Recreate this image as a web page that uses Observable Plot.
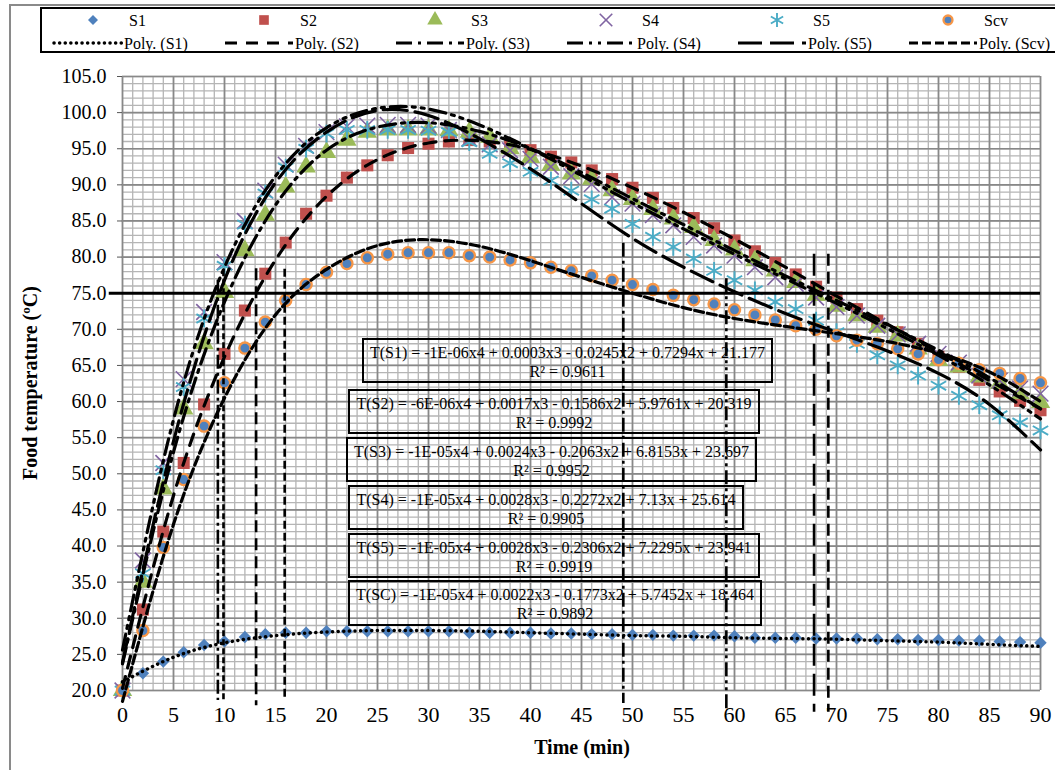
<!DOCTYPE html>
<html><head><meta charset="utf-8">
<script src="https://cdn.jsdelivr.net/npm/d3@7"></script>
<script src="https://cdn.jsdelivr.net/npm/@observablehq/plot@0.6"></script>
<style>
body{margin:0;background:#fff;}
#wrap{position:relative;width:1055px;height:770px;overflow:hidden;font-family:"Liberation Serif","Times New Roman",serif;color:#000;}
#wrap svg.plot{position:absolute;left:0;top:0;}
.frameL{position:absolute;left:9px;top:4px;width:2px;height:780px;background:#8a8a8a;}
.frameT{position:absolute;left:9px;top:4px;width:1100px;height:2px;background:#8a8a8a;}
.legendBox{position:absolute;left:40px;top:7px;width:1030px;height:42px;border:2.5px solid #000;}
.eq{position:absolute;border:2px solid #000;box-sizing:border-box;text-align:center;font-size:16px;line-height:19px;padding-top:3px;white-space:nowrap;}
.ytitle{position:absolute;left:30px;top:383px;transform:translate(-50%,-50%) rotate(-90deg);font-weight:bold;font-size:20px;white-space:nowrap;}
.xtitle{position:absolute;left:582px;top:747px;transform:translate(-50%,-50%);font-weight:bold;font-size:20px;white-space:nowrap;}
</style></head><body><div id="wrap"></div><script>
// ---------- data ----------
const times = [0,2,4,6,8,10,12,14,16,18,20,22,24,26,28,30,32,34,36,38,40,42,44,46,48,50,52,54,56,58,60,62,64,66,68,70,72,74,76,78,80,82,84,86,88,90];
const s1 = [20.0,22.4,24.0,25.3,26.3,26.8,27.4,27.8,28.0,28.0,28.2,28.2,28.2,28.2,28.2,28.2,28.2,28.0,28.0,28.0,28.0,27.9,27.9,27.8,27.8,27.7,27.7,27.6,27.6,27.6,27.5,27.3,27.3,27.3,27.2,27.2,27.2,27.1,27.1,27.0,27.0,26.9,26.9,26.8,26.7,26.6];
const s2 = [20.0,31.2,42.0,51.5,59.6,66.6,72.6,77.7,82.0,86.0,88.5,91.0,92.7,94.1,95.1,95.7,96.0,96.2,96.0,95.4,94.8,93.9,93.1,92.0,90.8,89.6,88.2,86.8,85.4,84.0,82.3,80.8,79.2,77.6,75.9,74.4,72.8,71.2,69.6,68.0,66.2,64.8,63.0,61.4,60.1,58.8];
const s3 = [20.0,35.0,47.9,59.0,68.0,75.1,80.9,85.8,89.7,92.5,94.5,96.2,97.3,97.6,97.6,97.6,97.5,97.3,96.6,95.0,93.8,92.7,91.5,90.8,89.2,88.0,86.6,85.3,84.1,82.3,81.0,79.5,78.1,76.5,74.7,73.2,71.9,70.3,69.1,67.3,65.7,64.8,63.4,62.5,61.1,59.9];
const s4 = [20.0,38.0,51.5,63.1,72.4,79.3,85.0,89.2,92.8,95.4,97.3,98.1,98.2,98.3,98.3,98.2,97.6,96.4,95.6,94.8,93.6,92.5,91.2,90.1,88.3,87.4,85.8,84.4,82.8,81.6,80.2,78.6,77.2,76.3,74.4,73.1,71.9,70.5,69.3,68.0,66.6,65.4,63.6,62.9,61.8,61.1];
const s5 = [20.0,36.2,50.5,62.0,71.5,78.8,84.5,88.8,92.4,95.0,97.1,97.6,97.6,97.6,97.6,97.5,97.3,95.9,94.3,93.0,91.8,90.6,89.2,88.0,86.7,84.6,82.8,81.4,79.8,78.1,76.8,75.4,73.8,72.8,71.2,69.6,68.0,66.4,65.0,63.6,62.2,60.8,59.5,58.1,57.1,56.0];
const scv = [20.0,28.3,39.8,49.2,56.6,62.6,67.4,71.0,74.0,76.2,77.9,79.1,79.9,80.4,80.6,80.6,80.6,80.2,80.0,79.6,79.2,78.6,78.1,77.4,76.8,76.2,75.5,74.7,74.1,73.5,72.7,72.0,71.3,70.5,70.0,69.1,68.5,68.0,67.3,66.6,65.8,65.3,64.4,63.9,63.2,62.6];

// polynomial trendlines
const polyTimes = [0,5,10,15,20,25,30,35,40,45,50,55,60,65,70,75,80,85,90];
const polyS1 = [21.2,24.6,26.6,27.6,28.1,28.3,28.3,28.2,28.0,27.8,27.6,27.5,27.3,27.2,27.1,26.9,26.7,26.4,26.1];
const polyS2 = [20.3,47.0,66.2,79.6,88.4,93.5,95.8,96.1,94.9,92.6,89.6,86.2,82.5,78.6,74.6,70.7,66.8,62.9,59.0];
const polyS3 = [23.7,53.0,73.8,87.2,94.8,98.0,98.6,97.4,95.0,91.7,88.1,84.5,80.9,77.4,74.0,70.6,67.1,63.3,59.0];
const polyS4 = [25.6,57.5,78.6,91.2,97.9,100.6,100.5,98.3,95.0,91.3,87.5,83.9,80.4,77.0,73.6,70.1,66.4,62.3,57.6];
const polyS5 = [23.9,54.5,76.8,90.3,97.3,100.3,99.6,96.4,92.2,87.4,82.6,78.6,75.2,72.2,69.6,67.0,63.9,59.6,53.3];
const polyScv = [18.5,43.0,60.5,72.0,78.3,81.6,82.4,81.5,79.5,77.2,75.0,73.0,71.5,70.4,69.4,68.3,66.7,64.1,60.0];

// annotations
const threshold = 75;
const thresholdStart = -1.3;
const refTimes = [9.35, 9.9, 13.1, 15.9, 49.1, 59.2, 67.8, 69.2];
const refTops = [76.8, 78.1, 78.4, 78.3, 81.9, 77.0, 80.4, 80.4];
const refBottoms = [18.6, 18.6, 17.9, 18.6, 18.2, 17.2, 17.0, 17.0];
const refDash = ["14 4 3 4", "6 3", "12 6", "8 4", "14 4 3 4", "14 4 3 4 3 4", "22 8", "12 6"];

const xTicks = [0,5,10,15,20,25,30,35,40,45,50,55,60,65,70,75,80,85,90];
const yTicks = [20,25,30,35,40,45,50,55,60,65,70,75,80,85,90,95,100,105];
const xMinor = d3.range(0, 91, 1);
const yMinor = d3.range(20, 106, 1);

const seriesNames = ["S1","S2","S3","S4","S5","Scv"];
const polyNames = ["Poly. (S1)","Poly. (S2)","Poly. (S3)","Poly. (S4)","Poly. (S5)","Poly. (Scv)"];
const equations = [
  ["T(S1) = -1E-06x4 + 0.0003x3 - 0.0245x2 + 0.7294x + 21.177", "R² = 0.9611"],
  ["T(S2) = -6E-06x4 + 0.0017x3 - 0.1586x2 + 5.9761x + 20.319", "R² = 0.9992"],
  ["T(S3) = -1E-05x4 + 0.0024x3 - 0.2063x2 + 6.8153x + 23.697", "R² = 0.9952"],
  ["T(S4) = -1E-05x4 + 0.0028x3 - 0.2272x2 + 7.13x + 25.614", "R² = 0.9905"],
  ["T(S5) = -1E-05x4 + 0.0028x3 - 0.2306x2 + 7.2295x + 23.941", "R² = 0.9919"],
  ["T(SC) = -1E-05x4 + 0.0022x3 - 0.1773x2 + 5.7452x + 18.464", "R² = 0.9892"]
];

// ---------- styles ----------
const markerStyles = [
  {symbol:"diamond2", r:5.6, fill:"#4F81BD", stroke:"none"},
  {symbol:"square", r:6.8, fill:"#C0504D", stroke:"none"},
  {symbol:"triangle", r:7.2, fill:"#9BBB59", stroke:"none"},
  {symbol:"times", r:7.2, fill:"none", stroke:"#8064A2", strokeWidth:1.6},
  {symbol:"asterisk", r:8.4, fill:"none", stroke:"#4BACC6", strokeWidth:1.9},
  {symbol:"circle", r:5.6, fill:"#4F81BD", stroke:"#F79646", strokeWidth:2.3}
];
const polyStyles = [
  {strokeDasharray:"0.1 5.5", strokeLinecap:"round", strokeWidth:3.5},
  {strokeDasharray:"12 9", strokeWidth:3.2},
  {strokeDasharray:"16 6 3 6", strokeWidth:3.2},
  {strokeDasharray:"16 6 3 6 3 6", strokeWidth:3.2},
  {strokeDasharray:"24 8", strokeWidth:3.2},
  {strokeDasharray:"9 4", strokeWidth:3.2}
];

const seriesVals = [s1,s2,s3,s4,s5,scv];
const polyVals = [polyS1,polyS2,polyS3,polyS4,polyS5,polyScv];
const pts = seriesVals.map(vals => times.map((t,i)=>({t, v: vals[i]})));
const polys = polyVals.map(vals => polyTimes.map((t,i)=>({t, v: vals[i]})));
const refs = refTimes.map((t,i)=>({t, top: refTops[i], bottom: refBottoms[i], dash: refDash[i]}));

const marks = [
  Plot.gridX(xMinor, {stroke:"#b5b5b5", strokeOpacity:1, strokeWidth:1.3}),
  Plot.gridY(yMinor, {stroke:"#b5b5b5", strokeOpacity:1, strokeWidth:1.3}),
  Plot.gridX(xTicks, {stroke:"#888", strokeOpacity:1, strokeWidth:1.7}),
  Plot.gridY(yTicks, {stroke:"#888", strokeOpacity:1, strokeWidth:1.7}),
  Plot.axisX(xTicks, {tickSize:0, tickPadding:16, fontSize:22, tickFormat:d=>String(d), label:null}),
  Plot.axisY(yTicks, {tickSize:5, tickPadding:11, fontSize:20, tickFormat:d=>d.toFixed(1), label:null, stroke:"#555"})
];
pts.forEach((d,i)=>{
  const m = markerStyles[i];
  marks.push(Plot.dot(d, {x:"t", y:"v", symbol:m.symbol, r:m.r, fill:m.fill, stroke:m.stroke, strokeWidth:m.strokeWidth||1}));
});
marks.push(Plot.ruleY([threshold], {x1:thresholdStart, x2:90, stroke:"#000", strokeWidth:3}));
refs.forEach(r=>{
  marks.push(Plot.ruleX([r], {x:"t", y1:"top", y2:"bottom", stroke:"#000", strokeWidth:2.6, strokeDasharray:r.dash}));
});
polys.forEach((d,i)=>{
  marks.push(Plot.line(d, {x:"t", y:"v", curve:"natural", stroke:"#000", ...polyStyles[i]}));
});

const chart = Plot.plot({
  width:1055, height:770,
  marginLeft:122, marginRight:15, marginTop:76, marginBottom:80,
  style:{fontFamily:"'Liberation Serif', 'Times New Roman', serif", color:"#000", background:"transparent", overflow:"visible"},
  x:{domain:[0,90], axis:null},
  y:{domain:[20,105], axis:null},
  marks
});
chart.classList.add("plot");
const wrap = document.getElementById("wrap");
wrap.appendChild(chart);

// frame
wrap.insertAdjacentHTML("beforeend", '<div class="frameL"></div><div class="frameT"></div>');

// legend
const legend = document.createElement("div");
legend.className = "legendBox";
wrap.appendChild(legend);
const lsvg = d3.select(wrap).append("svg")
  .attr("width",1055).attr("height",56)
  .style("position","absolute").style("left","0px").style("top","0px")
  .style("font-family","'Liberation Serif','Times New Roman',serif");
const symMap = {diamond2:d3.symbolDiamond2, square:d3.symbolSquare, triangle:d3.symbolTriangle, times:d3.symbolTimes, asterisk:d3.symbolAsterisk, circle:d3.symbolCircle};
seriesNames.forEach((name,i)=>{
  const cx = 93 + 171*i;
  const m = markerStyles[i];
  lsvg.append("path")
    .attr("d", d3.symbol(symMap[m.symbol], (m.r*0.8)*(m.r*0.8)*Math.PI)())
    .attr("transform", `translate(${cx},20)`)
    .attr("fill", m.fill).attr("stroke", m.stroke).attr("stroke-width", m.strokeWidth||1);
  lsvg.append("text").attr("x", cx+36).attr("y", 20).attr("dy","0.35em")
    .attr("font-size",16).text(name);
  const lx = 54 + 171*i;
  const ps = polyStyles[i];
  lsvg.append("line").attr("x1", lx).attr("x2", lx+68).attr("y1",43).attr("y2",43)
    .attr("stroke","#000").attr("stroke-width", ps.strokeWidth)
    .attr("stroke-dasharray", ps.strokeDasharray)
    .attr("stroke-linecap", ps.strokeLinecap || "butt");
  lsvg.append("text").attr("x", lx+70).attr("y", 43).attr("dy","0.35em")
    .attr("font-size",16).text(polyNames[i]);
});

// equation boxes
const boxes = [
  {l:362,t:338,w:411,h:45},
  {l:348,t:389,w:412,h:45},
  {l:346,t:437,w:411,h:45},
  {l:348,t:485,w:396,h:45},
  {l:348,t:533,w:412,h:45},
  {l:348,t:580,w:414,h:46}
];
equations.forEach((e,i)=>{
  const b = boxes[i];
  const d = document.createElement("div");
  d.className = "eq";
  d.style.left = b.l+"px"; d.style.top = b.t+"px"; d.style.width = b.w+"px"; d.style.height = b.h+"px";
  d.innerHTML = `<div>${e[0]}</div><div>${e[1]}</div>`;
  wrap.appendChild(d);
});

// axis titles
wrap.insertAdjacentHTML("beforeend", '<div class="ytitle">Food temperature (ºC)</div><div class="xtitle">Time (min)</div>');
</script></body></html>
